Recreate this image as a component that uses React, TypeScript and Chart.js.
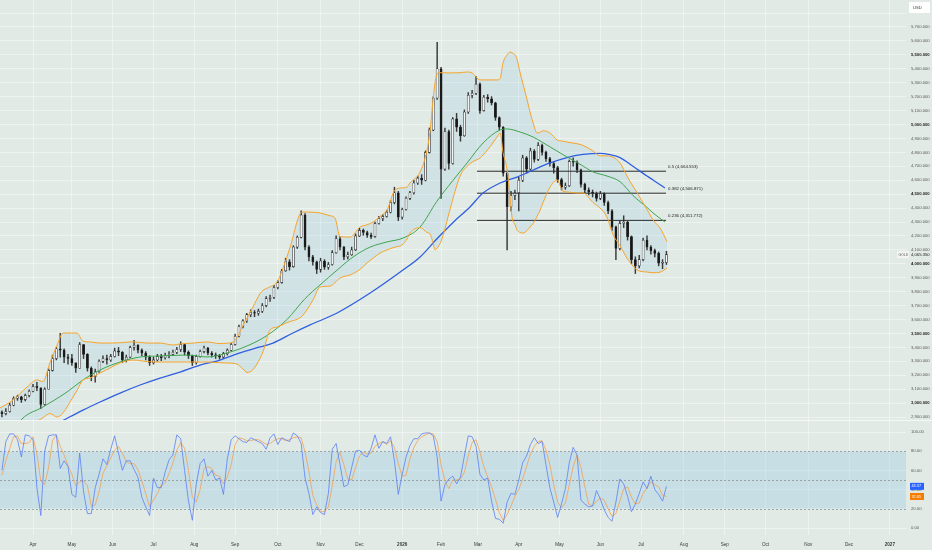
import React, { useEffect, useRef } from 'react';
import { Chart, registerables } from 'chart.js';

Chart.register(...registerables);

const FONT = '"Liberation Sans", Arial, sans-serif';
const BG = '#e2eae5';
const GRID = 'rgba(255,255,255,0.42)';

// ---- time axis (trading-day index, 0 = 1 Apr 2025) ----
const monthDays = [0, 20, 41, 62, 83, 104, 126, 148, 168, 190, 210, 229, 250, 271, 292, 313, 335, 356, 377, 399, 420, 441];
const monthLabels = ['Apr', 'May', 'Jun', 'Jul', 'Aug', 'Sep', 'Oct', 'Nov', 'Dec', '2026', 'Feb', 'Mar', 'Apr', 'May', 'Jun', 'Jul', 'Aug', 'Sep', 'Oct', 'Nov', 'Dec', '2027'];
const X_MIN = -17.0;
const X_MAX = 449.3;

// ---- candles (one bar every 2 trading days) ----
const firstBarDay = -16;
const barStep = 2;
const firstOpen = 2935;
const closes = [
  2925, 2940, 2985, 3035, 3045, 3025, 3055, 3085, 3120, 3110,
  2990, 3100, 3235, 3320, 3390, 3380, 3330, 3320, 3290, 3250,
  3420, 3350, 3250, 3190, 3225, 3300, 3320, 3310, 3335, 3375,
  3365, 3310, 3330, 3400, 3415, 3380, 3360, 3330, 3290, 3310,
  3335, 3325, 3340, 3350, 3365, 3385, 3420, 3365, 3340, 3290,
  3335, 3370, 3395, 3360, 3345, 3340, 3330, 3355, 3380, 3420,
  3480, 3550, 3590, 3635, 3650, 3645, 3660, 3700, 3750, 3760,
  3830, 3865, 3950, 4015, 3980, 4120, 4190, 4350, 4120, 4050,
  4015, 3960, 4020, 3975, 3995, 4080, 4180, 4120, 4050, 4065,
  4100, 4200, 4240, 4225, 4205, 4195, 4290, 4325, 4340, 4370,
  4440, 4510, 4335, 4390, 4470, 4510, 4580, 4615, 4600, 4800,
  4960, 5190, 5400, 4680, 4950, 4720, 5040, 4980, 4920, 5090,
  5210, 5225, 5290, 5100, 5195, 5185, 5155, 5050, 4980, 4650,
  4410, 4490, 4510, 4600, 4760, 4680, 4810, 4750, 4850, 4800,
  4755, 4720, 4690, 4605, 4550, 4560, 4735, 4730, 4675, 4570,
  4530, 4515, 4505, 4470, 4505, 4440, 4380, 4265, 4110, 4290,
  4300, 4195, 4030, 3985, 4030, 4170, 4120, 4095, 4075, 4005,
  4010, 4065.35,
];
const highs = [
  2945, 2960, 3000, 3045, 3057, 3050, 3065, 3095, 3135, 3150,
  3110, 3110, 3245, 3345, 3400, 3500, 3390, 3350, 3350, 3290,
  3435, 3420, 3355, 3260, 3245, 3310, 3340, 3345, 3350, 3395,
  3400, 3370, 3345, 3410, 3450, 3420, 3390, 3370, 3340, 3330,
  3350, 3350, 3360, 3370, 3380, 3400, 3440, 3425, 3375, 3345,
  3345, 3380, 3410, 3400, 3370, 3360, 3350, 3365, 3390, 3430,
  3495, 3560, 3600, 3645, 3670, 3665, 3675, 3715, 3765, 3775,
  3845, 3880, 3960, 4040, 4030, 4130, 4200, 4380, 4360, 4130,
  4060, 4020, 4040, 4030, 4010, 4095, 4200, 4195, 4125, 4085,
  4120, 4215, 4255, 4250, 4235, 4220, 4300, 4340, 4355, 4385,
  4455, 4550, 4520, 4400, 4480, 4520, 4600, 4630, 4640, 4810,
  4975, 5200, 5590, 5410, 4975, 4960, 5050, 5080, 4995, 5105,
  5230, 5245, 5345, 5300, 5210, 5215, 5200, 5160, 5055, 4985,
  4660, 4520, 4530, 4620, 4780, 4770, 4830, 4820, 4870, 4860,
  4810, 4765, 4730, 4700, 4615, 4580, 4745, 4760, 4740, 4680,
  4580, 4545, 4530, 4515, 4520, 4510, 4450, 4390, 4270, 4310,
  4345, 4305, 4200, 4050, 4060, 4185, 4200, 4130, 4105, 4085,
  4030, 4090,
];
const lows = [
  2900, 2915, 2935, 2980, 3020, 3005, 3015, 3045, 3080, 3090,
  2960, 2985, 3100, 3230, 3310, 3330, 3290, 3280, 3270, 3220,
  3250, 3320, 3230, 3160, 3150, 3220, 3290, 3280, 3300, 3330,
  3340, 3290, 3295, 3325, 3380, 3360, 3340, 3310, 3270, 3280,
  3300, 3305, 3315, 3325, 3340, 3355, 3370, 3345, 3320, 3270,
  3280, 3330, 3360, 3345, 3330, 3320, 3315, 3320, 3345, 3375,
  3415, 3475, 3540, 3580, 3620, 3620, 3630, 3650, 3690, 3730,
  3750, 3820, 3860, 3945, 3955, 3975, 4110, 4185, 4100, 4020,
  3990, 3930, 3940, 3960, 3960, 3990, 4075, 4100, 4030, 4035,
  4060, 4095, 4195, 4205, 4190, 4180, 4190, 4285, 4310, 4335,
  4365, 4430, 4310, 4320, 4385, 4460, 4500, 4570, 4570, 4595,
  4795, 4955, 5180, 4470, 4670, 4680, 4715, 4950, 4880, 4915,
  5080, 5190, 5215, 5080, 5095, 5160, 5140, 5030, 4960, 4630,
  4100, 4380, 4460, 4380, 4590, 4650, 4670, 4730, 4740, 4780,
  4735, 4700, 4650, 4585, 4530, 4535, 4555, 4700, 4655, 4550,
  4510, 4495, 4480, 4450, 4460, 4420, 4360, 4240, 4030, 4100,
  4260, 4170, 4000, 3930, 3970, 4020, 4100, 4070, 4050, 3985,
  3965, 3995,
];

// ---- Bollinger bands (orange) ----
const bbDays = [
  -17.0, -10.3, -3.1, 2.1, 5.1, 8.7, 12.4, 15.4, 20.6, 22.6, 25.7, 29.3, 34.5, 39.6, 44.8, 51.5, 58.7, 65.4, 72.1, 75.7,
  82.4, 89.6, 96.2, 99.8, 102.9, 105.0, 108.1, 110.1, 113.2, 116.8, 118.4, 122.0, 125.6, 130.7, 132.3, 138.5, 144.1, 147.7, 152.9, 155.4,
  158.0, 163.2, 168.3, 171.9, 175.0, 178.6, 182.2, 186.3, 189.9, 192.5, 194.0, 199.2, 202.8, 204.3, 205.9, 206.9, 208.4, 210.5, 214.6, 219.8,
  223.4, 226.0, 230.1, 231.6, 235.2, 238.8, 240.4, 241.9, 244.0, 245.5, 246.5, 248.1, 249.1, 250.7, 252.2, 254.3, 255.8, 257.4, 259.4, 261.0,
  262.5, 266.1, 269.7, 272.8, 274.8, 280.0, 283.1, 288.2, 291.8, 295.4, 298.5, 302.1, 305.7, 307.3, 310.9, 316.0, 319.1, 322.7, 326.3,
];
const bbUpper = [
  2965, 3022, 3115, 3166, 3155, 3290, 3417, 3503, 3503, 3503, 3445, 3439, 3431, 3431, 3433, 3440, 3431, 3431, 3417, 3425,
  3431, 3439, 3427, 3430, 3437, 3470, 3560, 3610, 3690, 3785, 3810, 3835, 3870, 4049, 4120, 4372, 4370, 4365, 4345, 4329,
  4195, 4192, 4264, 4280, 4300, 4340, 4386, 4530, 4545, 4551, 4580, 4659, 4817, 4950, 5176, 5300, 5370, 5372, 5370, 5372,
  5377, 5370, 5320, 5320, 5320, 5320, 5330, 5442, 5500, 5520, 5515, 5499, 5470, 5370, 5290, 5176, 5090, 5011, 4939, 4945,
  4955, 4939, 4889, 4880, 4874, 4862, 4850, 4810, 4775, 4775, 4765, 4724, 4630, 4590, 4510, 4390, 4315, 4257, 4160,
];
const bbLower = [
  2790, 2800, 2830, 2870, 2895, 2925, 2900, 2929, 3044, 3090, 3166, 3180, 3216, 3252, 3288, 3309, 3298, 3295, 3295, 3295,
  3295, 3295, 3290, 3288, 3286, 3280, 3245, 3220, 3240, 3320, 3370, 3525, 3546, 3578, 3585, 3625, 3740, 3833, 3840, 3865,
  3898, 3920, 3960, 4006, 4040, 4077, 4100, 4120, 4135, 4180, 4221, 4260, 4225, 4215, 4150, 4100, 4120, 4180, 4390, 4630,
  4700, 4730, 4760, 4781, 4840, 4910, 4939, 4800, 4673, 4480, 4336, 4280, 4243, 4225, 4221, 4240, 4264, 4290, 4340, 4386,
  4440, 4551, 4602, 4520, 4516, 4508, 4508, 4440, 4400, 4336, 4210, 4130, 4040, 4010, 3955, 3941, 3936, 3940, 3970,
];

// ---- moving averages ----
const greenDays = [-6.5, -5.7, 5.1, 17.5, 25.7, 34.5, 44.8, 55.1, 65.4, 79.3, 89.6, 99.8, 110.1, 120.4, 130.7, 140.0, 147.7, 156.5, 164.7, 173.5, 182.2, 190.4, 199.2, 207.9, 216.2, 223.4, 231.6, 240.4, 244.0, 250.7, 257.4, 266.1, 274.8, 281.5, 288.2, 295.4, 302.1, 308.8, 316.0, 319.1, 325.2];
const greenMA = [2870, 2886, 2972, 3080, 3166, 3238, 3295, 3331, 3338, 3345, 3331, 3360, 3410, 3485, 3600, 3750, 3848, 3955, 4049, 4120, 4157, 4185, 4264, 4450, 4600, 4724, 4867, 4961, 4968, 4946, 4910, 4839, 4767, 4715, 4660, 4630, 4590, 4490, 4405, 4365, 4300];
const blueDays = [14.9, 25.7, 34.5, 44.8, 55.1, 65.4, 75.7, 86.0, 96.2, 106.5, 116.8, 123.5, 133.8, 142.6, 156.5, 173.5, 190.4, 199.2, 207.9, 216.2, 224.9, 231.6, 240.4, 249.1, 257.4, 266.1, 274.8, 283.1, 291.8, 297.0, 302.1, 308.8, 316.0, 319.1, 325.2];
const blueMA = [2872, 2950, 3008, 3072, 3130, 3180, 3223, 3273, 3309, 3360, 3403, 3431, 3503, 3561, 3647, 3790, 3955, 4049, 4180, 4297, 4408, 4508, 4580, 4623, 4673, 4724, 4763, 4785, 4793, 4783, 4762, 4700, 4630, 4602, 4544];

// ---- Fibonacci levels ----
const fibRatios = ['0.5', '0.382', '0.236'];
const fibValues = [4664.553, 4506.871, 4311.772];
const fibStartDay = 228.5;
const fibEndDay = 325.8;
const lastPrice = 4065.35;

// ---- Stochastic RSI (per candle) ----
const stochK = [
  60, 90, 98, 98, 92, 74, 97, 96, 92, 42,
  13, 80, 96, 97, 97, 62, 70, 64, 35, 32,
  78, 38, 15, 15, 42, 56, 72, 66, 82, 96,
  78, 60, 70, 70, 61, 53, 32, 22, 13, 52,
  42, 42, 58, 71, 76, 97, 93, 60, 28, 8,
  46, 67, 72, 54, 60, 50, 52, 35, 72, 92,
  96, 93, 90, 89, 94, 92, 90, 88, 82, 94,
  98, 87, 94, 92, 90, 99, 96, 88, 52, 36,
  14, 22, 16, 14, 36, 82, 88, 66, 43, 45,
  63, 80, 81, 76, 74, 83, 97, 83, 90, 88,
  95, 70, 35, 56, 74, 86, 93, 93, 98, 99,
  99, 96, 74, 28, 45, 51, 54, 46, 53, 75,
  96, 95, 85, 56, 50, 52, 28, 10, 9, 5,
  27, 36, 35, 50, 68, 75, 87, 94, 88, 90,
  66, 42, 27, 11, 25, 41, 68, 84, 76, 29,
  25, 22, 23, 39, 30, 19, 11, 7, 27, 51,
  46, 33, 17, 25, 36, 48, 41, 54, 40, 35,
  28, 43.37,
];
const stochD = [
  55, 70, 83, 95, 96, 88, 88, 89, 95, 77,
  49, 45, 63, 91, 97, 85, 76, 65, 56, 44,
  48, 49, 44, 23, 24, 38, 57, 65, 73, 81,
  85, 78, 69, 67, 67, 61, 49, 36, 22, 29,
  36, 45, 47, 57, 68, 81, 89, 83, 60, 32,
  27, 40, 62, 64, 62, 55, 54, 46, 53, 66,
  87, 94, 93, 91, 91, 92, 92, 90, 87, 88,
  91, 93, 93, 91, 92, 94, 95, 94, 79, 59,
  34, 24, 17, 17, 22, 44, 69, 79, 66, 51,
  50, 63, 75, 79, 77, 78, 85, 88, 90, 87,
  91, 84, 67, 54, 55, 72, 84, 91, 95, 97,
  99, 98, 90, 66, 49, 41, 50, 50, 51, 58,
  75, 89, 92, 79, 64, 53, 43, 30, 16, 8,
  14, 23, 33, 40, 51, 64, 77, 85, 90, 91,
  81, 66, 45, 27, 21, 26, 45, 64, 76, 63,
  43, 25, 23, 28, 31, 29, 20, 12, 15, 28,
  41, 43, 32, 25, 26, 36, 42, 48, 45, 43,
  34, 32.85,
];
const stochTicks = [0, 20, 40, 60, 80, 100];
const stochBandLevels = [80, 50, 20];

// ---- derived tables ----
const barDays = closes.map((_, i) => firstBarDay + i * barStep);
const opens = closes.map((_, i) => (i === 0 ? firstOpen : closes[i - 1]));

const fmtPrice = (v: number) =>
  v.toLocaleString('en-US', { minimumFractionDigits: 3, maximumFractionDigits: 3 });
const pairs = (days: number[], vals: number[]) => days.map((d, i) => ({ x: d, y: vals[i] }));
const isYear = (i: number) => /^\d{4}$/.test(monthLabels[i] || '');

const noPad = (s: any) => {
  s.paddingTop = 0;
  s.paddingBottom = 0;
  s.paddingLeft = 0;
  s.paddingRight = 0;
};

const xAxis = (showLabels: boolean): any => ({
  type: 'linear',
  min: X_MIN,
  max: X_MAX,
  offset: false,
  grid: { color: GRID, drawTicks: false, offset: false, lineWidth: 1 },
  border: { display: false },
  afterBuildTicks: (s: any) => {
    s.ticks = monthDays.map((v) => ({ value: v }));
  },
  ticks: {
    display: showLabels,
    autoSkip: false,
    maxRotation: 0,
    padding: 6.5,
    color: '#3a3a3a',
    font: (c: any) => ({ family: FONT, size: 4.6, weight: isYear(c.index) ? 'bold' : 'normal' }),
    callback: (_v: any, i: number) => monthLabels[i],
  },
  afterFit: (s: any) => {
    s.height = showLabels ? 15 : 0;
    noPad(s);
  },
});

const priceOverlay = {
  id: 'priceOverlay',
  afterDraw(chart: any) {
    const { ctx, chartArea } = chart;
    const x = chart.scales.x;
    const y = chart.scales.y;
    ctx.save();
    ctx.font = `4.4px ${FONT}`;
    ctx.fillStyle = '#222';
    ctx.textAlign = 'left';
    ctx.textBaseline = 'bottom';
    fibValues.forEach((v, i) => {
      ctx.fillText(`${fibRatios[i]} (${fmtPrice(v)})`, x.getPixelForValue(fibEndDay) + 2, y.getPixelForValue(v) - 2.5);
    });
    // currency box
    ctx.fillStyle = '#ffffff';
    ctx.fillRect(chartArea.right + 3, 2, 21, 11);
    ctx.fillStyle = '#333';
    ctx.font = `4.2px ${FONT}`;
    ctx.textBaseline = 'middle';
    ctx.fillText('USD', chartArea.right + 7, 7.5);
    // last price tag
    const ly = y.getPixelForValue(lastPrice);
    ctx.fillStyle = '#f3f5f4';
    ctx.fillRect(chartArea.right - 9, ly - 3.5, 12, 7);
    ctx.fillStyle = '#555';
    ctx.font = `3.4px ${FONT}`;
    ctx.fillText('GOLD', chartArea.right - 7.5, ly);
    ctx.fillStyle = '#222';
    ctx.font = `4.2px ${FONT}`;
    ctx.fillText(fmtPrice(lastPrice), chartArea.right + 5, ly);
    ctx.restore();
  },
};

const oscOverlay = {
  id: 'oscOverlay',
  beforeDatasetsDraw(chart: any) {
    const { ctx, chartArea } = chart;
    const y = chart.scales.y;
    ctx.save();
    const y80 = y.getPixelForValue(80);
    const y20 = y.getPixelForValue(20);
    ctx.fillStyle = 'rgba(160,205,228,0.4)';
    ctx.fillRect(chartArea.left, y80, chartArea.right - chartArea.left, y20 - y80);
    ctx.setLineDash([2, 2]);
    ctx.strokeStyle = '#8c9490';
    ctx.lineWidth = 0.8;
    stochBandLevels.forEach((v) => {
      const yy = Math.round(y.getPixelForValue(v)) + 0.5;
      ctx.beginPath();
      ctx.moveTo(chartArea.left, yy);
      ctx.lineTo(chartArea.right, yy);
      ctx.stroke();
    });
    ctx.restore();
  },
  afterDraw(chart: any) {
    const { ctx, chartArea } = chart;
    const y = chart.scales.y;
    ctx.save();
    ctx.strokeStyle = 'rgba(255,255,255,0.6)';
    ctx.lineWidth = 1;
    ctx.beginPath();
    ctx.moveTo(0, 0.5);
    ctx.lineTo(chart.width, 0.5);
    ctx.stroke();
    const badge = (v: number, color: string) => {
      const yy = y.getPixelForValue(v);
      ctx.fillStyle = color;
      ctx.fillRect(chartArea.right + 4, yy - 3.5, 14, 7);
      ctx.fillStyle = '#ffffff';
      ctx.font = `3.8px ${FONT}`;
      ctx.textAlign = 'left';
      ctx.textBaseline = 'middle';
      ctx.fillText(v.toFixed(2), chartArea.right + 5.5, yy);
    };
    badge(stochK[stochK.length - 1], '#2962ff');
    badge(stochD[stochD.length - 1], '#f57c00');
    ctx.restore();
  },
};

export default function App() {
  const topRef = useRef<HTMLCanvasElement | null>(null);
  const botRef = useRef<HTMLCanvasElement | null>(null);

  useEffect(() => {
    if (!topRef.current || !botRef.current) return;
    const lineDs = (label: string, data: any[], color: string, width: number, extra: any = {}) => ({
      type: 'line',
      label,
      data,
      borderColor: color,
      borderWidth: width,
      pointRadius: 0,
      cubicInterpolationMode: 'monotone',
      fill: false,
      order: 0,
      ...extra,
    });

    const top = new Chart(topRef.current, {
      type: 'bar',
      data: {
        datasets: [
          lineDs('BB upper', pairs(bbDays, bbUpper), '#f5a32a', 1),
          lineDs('BB lower', pairs(bbDays, bbLower), '#f5a32a', 1, {
            fill: '-1',
            backgroundColor: 'rgba(160,205,228,0.25)',
          }),
          lineDs('MA green', pairs(greenDays, greenMA), '#3fa34d', 1),
          lineDs('MA blue', pairs(blueDays, blueMA), '#2f5fe0', 1.3),
          ...fibValues.map((v, i) =>
            lineDs('Fib ' + fibRatios[i], [{ x: fibStartDay, y: v }, { x: fibEndDay, y: v }], '#2b2b2b', 1, {
              cubicInterpolationMode: 'default',
            })
          ),
          {
            type: 'bar',
            label: 'body',
            data: barDays.map((d, i) => ({ x: d, y: [opens[i], closes[i]] })),
            backgroundColor: (c: any) => (closes[c.dataIndex] >= opens[c.dataIndex] ? '#f4f4f4' : '#161616'),
            borderColor: '#2a2a2a',
            borderWidth: 0.6,
            borderSkipped: false,
            barThickness: 2.2,
            minBarLength: 0.8,
            grouped: false,
            order: 1,
          },
          {
            type: 'bar',
            label: 'wick',
            data: barDays.map((d, i) => ({
              x: d,
              y: [Math.min(lows[i], opens[i], closes[i]), Math.max(highs[i], opens[i], closes[i])],
            })),
            backgroundColor: '#3a3a3a',
            borderWidth: 0,
            barThickness: 0.8,
            grouped: false,
            order: 2,
          },
        ] as any,
      },
      options: {
        animation: false,
        responsive: false,
        maintainAspectRatio: false,
        events: [],
        layout: { padding: 0 },
        plugins: {
          legend: { display: false },
          tooltip: { enabled: false },
          filler: { drawTime: 'beforeDatasetsDraw' },
        } as any,
        scales: {
          x: xAxis(false),
          y: {
            position: 'right',
            min: 2878.7,
            max: 5893.8,
            grid: { color: GRID, drawTicks: false },
            border: { display: false },
            ticks: {
              stepSize: 100,
              includeBounds: false,
              padding: 5,
              color: (c: any) => (c.tick && c.tick.value % 500 === 0 ? '#1e1e1e' : '#5a5a5a'),
              font: (c: any) => ({
                family: FONT,
                size: 4.2,
                weight: c.tick && c.tick.value % 500 === 0 ? 'bold' : 'normal',
              }),
              callback: (v: any) => (Number(v) > 5700 ? '' : fmtPrice(Number(v))),
            },
            afterFit: (s: any) => {
              s.width = 26;
              noPad(s);
            },
          } as any,
        },
      },
      plugins: [priceOverlay],
    } as any);

    const bottom = new Chart(botRef.current, {
      type: 'line',
      data: {
        datasets: [
          {
            label: '%K',
            data: pairs(barDays, stochK),
            borderColor: '#5b7ff5',
            borderWidth: 0.8,
            pointRadius: 0,
            fill: false,
            order: 0,
          },
          {
            label: '%D',
            data: pairs(barDays, stochD),
            borderColor: '#f2a150',
            borderWidth: 0.8,
            pointRadius: 0,
            fill: false,
            order: 1,
          },
        ],
      },
      options: {
        animation: false,
        responsive: false,
        maintainAspectRatio: false,
        events: [],
        layout: { padding: 0 },
        plugins: { legend: { display: false }, tooltip: { enabled: false } },
        scales: {
          x: xAxis(true),
          y: {
            position: 'right',
            min: -7.29,
            max: 112.5,
            grid: { color: GRID, drawTicks: false },
            border: { display: false },
            afterBuildTicks: (s: any) => {
              s.ticks = stochTicks.map((v) => ({ value: v }));
            },
            ticks: {
              padding: 5,
              color: '#5a5a5a',
              font: { family: FONT, size: 4.2 },
              callback: (v: any) => Number(v).toFixed(2),
            },
            afterFit: (s: any) => {
              s.width = 26;
              noPad(s);
            },
          } as any,
        },
      },
      plugins: [oscOverlay],
    } as any);

    return () => {
      top.destroy();
      bottom.destroy();
    };
  }, []);

  return (
    <div style={{ position: 'fixed', left: 0, top: 0, width: 932, height: 550, background: BG, overflow: 'hidden' }}>
      <canvas
        ref={topRef}
        width={932}
        height={420}
        style={{ position: 'absolute', left: 0, top: 0, width: 932, height: 420 }}
      />
      <canvas
        ref={botRef}
        width={932}
        height={130}
        style={{ position: 'absolute', left: 0, top: 420, width: 932, height: 130 }}
      />
    </div>
  );
}
